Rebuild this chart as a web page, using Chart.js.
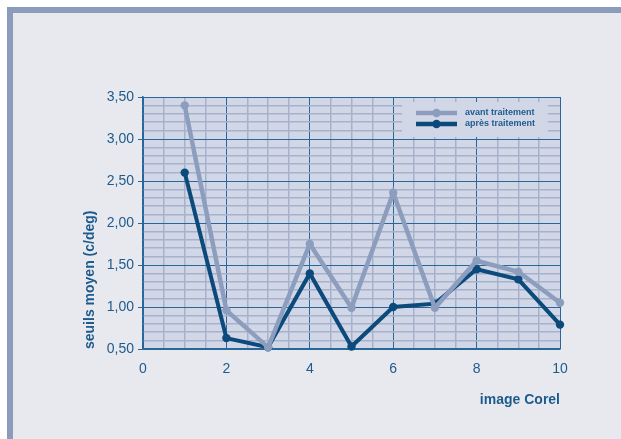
<!DOCTYPE html>
<html>
<head>
<meta charset="utf-8">
<script src="https://cdn.jsdelivr.net/npm/chart.js@4"></script>
<style>
    body { margin: 0; background: #ffffff; }
    #frame {
        position: absolute; left: 7px; top: 7px; right: 0; bottom: 0;
        background: #e8e9ef;
        border-top: 6px solid #8c9dbb;
        border-left: 6px solid #8c9dbb;
    }
    #chart { position: absolute; left: 0; top: 0; }
</style>
</head>
<body>
<div id="frame"></div>
<canvas id="chart" width="621" height="439"></canvas>
<script>
const images = [1, 2, 3, 4, 5, 6, 7, 8, 9, 10];
const avantTraitement = [3.40, 0.96, 0.52, 1.75, 0.99, 2.36, 0.99, 1.55, 1.42, 1.05];
const apresTraitement = [2.60, 0.63, 0.52, 1.40, 0.53, 1.00, 1.04, 1.45, 1.33, 0.79];
const seriesNames = ['avant traitement', 'après traitement'];
const xTitle = 'image Corel';
const yTitle = 'seuils moyen (c/deg)';

const lightColor = '#8d9dbd';
const darkColor = '#0b4a7a';
const textColor = '#1d5b8d';
const majorGrid = '#29679a';
const minorGrid = '#a6b1cb';
const plotBg = '#d2d7e7';
const fontFamily = "'Liberation Sans', Arial, Helvetica, sans-serif";

function isMultiple(v, step) {
    const r = v / step;
    return Math.abs(r - Math.round(r)) < 1e-6;
}

const plotBackground = {
    id: 'plotBackground',
    beforeDraw(chart) {
        const { ctx, chartArea } = chart;
        ctx.save();
        ctx.fillStyle = plotBg;
        ctx.fillRect(chartArea.left, chartArea.top, chartArea.right - chartArea.left, chartArea.bottom - chartArea.top);
        ctx.restore();
    }
};

// legend box sits inside the plot, top right corner
const insideLegend = {
    id: 'insideLegend',
    afterDatasetsDraw(chart) {
        const { ctx, chartArea } = chart;
        const boxRight = chartArea.right - 12;
        const boxLeft = boxRight - 146;
        const boxTop = chartArea.top + 5;
        ctx.save();
        ctx.fillStyle = plotBg;
        ctx.fillRect(boxLeft, boxTop, boxRight - boxLeft, 35);
        chart.data.datasets.forEach((ds, i) => {
            const y = boxTop + 11 + i * 11;
            const x0 = boxLeft + 14;
            ctx.strokeStyle = ds.borderColor;
            ctx.lineWidth = 4.5;
            ctx.beginPath();
            ctx.moveTo(x0, y);
            ctx.lineTo(x0 + 41, y);
            ctx.stroke();
            ctx.fillStyle = ds.borderColor;
            ctx.beginPath();
            ctx.arc(x0 + 20.5, y, 4.2, 0, Math.PI * 2);
            ctx.fill();
            ctx.fillStyle = textColor;
            ctx.font = 'bold 9px ' + fontFamily;
            ctx.textBaseline = 'middle';
            ctx.textAlign = 'left';
            ctx.fillText(ds.label, x0 + 49, y);
        });
        ctx.restore();
    }
};

const ctx = document.getElementById('chart').getContext('2d');
new Chart(ctx, {
    type: 'line',
    data: {
        datasets: [
            {
                label: seriesNames[0],
                data: images.map((x, i) => ({ x: x, y: avantTraitement[i] })),
                borderColor: lightColor,
                backgroundColor: lightColor,
                borderWidth: 4.5,
                pointRadius: 4.2,
                pointHoverRadius: 4.2,
                pointBorderWidth: 0,
                tension: 0,
                clip: false
            },
            {
                label: seriesNames[1],
                data: images.map((x, i) => ({ x: x, y: apresTraitement[i] })),
                borderColor: darkColor,
                backgroundColor: darkColor,
                borderWidth: 4,
                pointRadius: 4.2,
                pointHoverRadius: 4.2,
                pointBorderWidth: 0,
                tension: 0,
                clip: false
            }
        ]
    },
    options: {
        responsive: false,
        animation: false,
        layout: { padding: { left: 82, top: 97, right: 61, bottom: 30 } },
        plugins: {
            legend: { display: false },
            tooltip: { enabled: false }
        },
        scales: {
            x: {
                type: 'linear',
                min: 0,
                max: 10,
                afterFit: scale => { scale.height = 60; },
                ticks: {
                    stepSize: 0.5,
                    autoSkip: false,
                    maxRotation: 0,
                    padding: 12,
                    color: textColor,
                    font: { family: fontFamily, size: 14 },
                    callback: v => isMultiple(v, 2) ? String(Math.round(v)) : ''
                },
                grid: {
                    drawTicks: false,
                    color: c => isMultiple(c.tick.value, 2) ? majorGrid : minorGrid,
                    lineWidth: c => isMultiple(c.tick.value, 2) ? 1 : 1.5
                },
                border: { color: majorGrid, width: 1.5 },
                title: {
                    display: true,
                    text: xTitle,
                    align: 'end',
                    padding: 0,
                    color: textColor,
                    font: { family: fontFamily, size: 14, weight: 'bold' }
                }
            },
            y: {
                min: 0.5,
                max: 3.5,
                afterFit: scale => { scale.width = 61; },
                ticks: {
                    stepSize: 0.1,
                    autoSkip: false,
                    padding: 4,
                    color: textColor,
                    font: { family: fontFamily, size: 14 },
                    callback: v => isMultiple(v, 0.5) ? v.toFixed(2).replace('.', ',') : ''
                },
                grid: {
                    tickLength: 5,
                    color: c => isMultiple(c.tick.value, 0.5) ? majorGrid : minorGrid,
                    tickColor: c => isMultiple(c.tick.value, 0.5) ? majorGrid : 'rgba(0,0,0,0)',
                    lineWidth: c => isMultiple(c.tick.value, 0.5) ? 1 : 1.5
                },
                border: { color: majorGrid, width: 1.5 },
                title: {
                    display: true,
                    text: yTitle,
                    align: 'start',
                    padding: 0,
                    color: textColor,
                    font: { family: fontFamily, size: 14, weight: 'bold' }
                }
            }
        }
    },
    plugins: [plotBackground, insideLegend]
});
</script>
</body>
</html>
